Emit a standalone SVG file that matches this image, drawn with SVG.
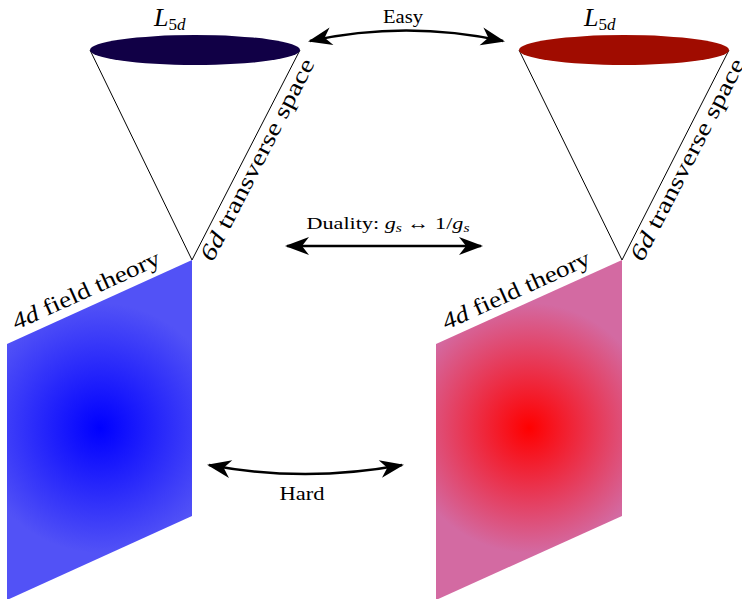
<svg xmlns="http://www.w3.org/2000/svg" width="742" height="599" viewBox="0 0 742 599">
<style>
.t{font-family:"Liberation Serif","DejaVu Serif",serif;fill:#000}
.i{font-style:italic}
.cone{fill:none;stroke:#000;stroke-width:1}
.arr{fill:none;stroke:#000;stroke-width:2.5}
</style>
<defs>
<radialGradient id="gb" gradientUnits="userSpaceOnUse" cx="100" cy="428" r="125">
<stop offset="0" stop-color="#0000ff"/>
<stop offset="1" stop-color="#5252f6"/>
</radialGradient>
<radialGradient id="gr" gradientUnits="userSpaceOnUse" cx="529" cy="428" r="125">
<stop offset="0" stop-color="#ff0000"/>
<stop offset="1" stop-color="#d36aa2"/>
</radialGradient>
<marker id="ah" markerUnits="userSpaceOnUse" markerWidth="30" markerHeight="30" viewBox="-26 -13 30 26" refX="0" refY="0" orient="auto-start-reverse">
<path d="M2,0 L-22,-9 L-15,0 L-22,9 Z" fill="#000"/>
</marker>
</defs>
<g id="left-brane">
<polygon points="7,344 192,260 192,516 7,600" fill="url(#gb)"/>
<text class="t" font-size="23" transform="translate(89,297) rotate(-24.4)" text-anchor="middle" textLength="160" lengthAdjust="spacingAndGlyphs"><tspan class="i">4d</tspan> field theory</text>
</g>
<g id="left-cone">
<line class="cone" x1="90" y1="50" x2="192" y2="260"/>
<line class="cone" x1="300" y1="50" x2="192" y2="260"/>
<ellipse cx="195" cy="50" rx="105" ry="15" fill="#110046"/>
<text class="t" font-size="23" transform="translate(264,163) rotate(-62.8)" text-anchor="middle" textLength="224" lengthAdjust="spacingAndGlyphs"><tspan class="i">6d</tspan> transverse space</text>
<text class="t" x="154" y="26" font-size="26"><tspan class="i">L</tspan><tspan font-size="17" dy="4">5</tspan><tspan class="i" font-size="17">d</tspan></text>
</g>
<g id="right-brane">
<polygon points="436,344 622,260 622,516 436,600" fill="url(#gr)"/>
<text class="t" font-size="23" transform="translate(519,297) rotate(-24.4)" text-anchor="middle" textLength="160" lengthAdjust="spacingAndGlyphs"><tspan class="i">4d</tspan> field theory</text>
</g>
<g id="right-cone">
<line class="cone" x1="519" y1="50" x2="622" y2="260"/>
<line class="cone" x1="729" y1="50" x2="622" y2="260"/>
<ellipse cx="624" cy="50" rx="105" ry="15" fill="#a00c00"/>
<text class="t" font-size="23" transform="translate(694,163) rotate(-62.8)" text-anchor="middle" textLength="224" lengthAdjust="spacingAndGlyphs"><tspan class="i">6d</tspan> transverse space</text>
<text class="t" x="584" y="26" font-size="26"><tspan class="i">L</tspan><tspan font-size="17" dy="4">5</tspan><tspan class="i" font-size="17">d</tspan></text>
</g>
<g id="connectors">
<path class="arr" d="M310,41 Q406,20 503,41" marker-start="url(#ah)" marker-end="url(#ah)"/>
<path class="arr" d="M287,246 L481,246" marker-start="url(#ah)" marker-end="url(#ah)"/>
<path class="arr" d="M209,465 Q305,483 402,465" marker-start="url(#ah)" marker-end="url(#ah)"/>
</g>
<g id="labels">
<text class="t" x="403" y="23" font-size="18" text-anchor="middle" textLength="40" lengthAdjust="spacingAndGlyphs">Easy</text>
<text class="t" x="388" y="229" font-size="17" text-anchor="middle" textLength="163" lengthAdjust="spacingAndGlyphs">Duality:  <tspan class="i">g</tspan><tspan class="i" font-size="12" dy="3">s</tspan><tspan dy="-3"> ↔ 1/</tspan><tspan class="i">g</tspan><tspan class="i" font-size="12" dy="3">s</tspan></text>
<text class="t" x="302" y="500" font-size="18" text-anchor="middle" textLength="45" lengthAdjust="spacingAndGlyphs">Hard</text>
</g>
</svg>
